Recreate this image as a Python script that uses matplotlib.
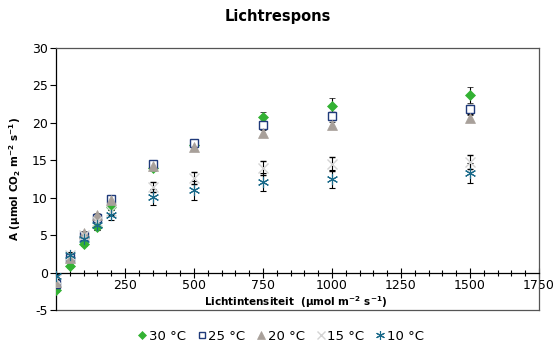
import matplotlib
matplotlib.use("Agg")
import matplotlib.pyplot as plt
from matplotlib.ticker import MultipleLocator

plt.rcParams['font.family'] = ['DejaVu Sans']
plt.rcParams['mathtext.fontset'] = 'dejavusans'
plt.rcParams['axes.unicode_minus'] = False

light = [0, 50, 100, 150, 200, 350, 500, 750, 1000, 1500]

a30 = [-2.3, 0.9, 3.8, 6.1, 8.8, 14.0, 17.1, 20.8, 22.2, 23.7]
a25 = [-1.5, 1.9, 4.9, 7.3, 9.8, 14.5, 17.3, 19.7, 20.9, 21.8]
a20 = [-1.2, 2.0, 5.3, 7.7, 9.7, 14.2, 16.8, 18.7, 19.7, 20.6]
a15 = [-0.8, 2.3, 5.0, 6.9, 8.2, 11.4, 12.6, 14.0, 14.5, 14.8]
a10 = [-0.5, 2.3, 4.5, 6.3, 7.7, 10.1, 11.0, 12.1, 12.5, 13.3]

e30 = [0.3, 0.3, 0.3, 0.4, 0.4, 0.4, 0.4, 0.6, 1.1, 1.1]
e25 = [0.3, 0.3, 0.3, 0.3, 0.4, 0.4, 0.4, 0.5, 0.5, 0.6]
e20 = [0.3, 0.3, 0.3, 0.3, 0.3, 0.3, 0.3, 0.4, 0.4, 0.4]
e15 = [0.3, 0.3, 0.4, 0.4, 0.5, 0.7, 0.8, 0.9, 0.9, 0.9]
e10 = [0.3, 0.4, 0.5, 0.6, 0.7, 1.1, 1.3, 1.2, 1.2, 1.3]

labels = ["30 °C", "25 °C", "20 °C", "15 °C", "10 °C"]

fig = plt.figure(figsize=(5.56, 3.51), dpi=100)
ax = fig.add_axes([0.1007, 0.1168, 0.8687, 0.7464])

styles = [
    dict(marker="D", ms=5, mfc="#33B233", mec="#33B233", mew=0.5),
    dict(marker="s", ms=6, mfc="white", mec="#1F3A7A", mew=1.0),
    dict(marker="^", ms=7, mfc="#A8A09A", mec="#A8A09A", mew=0.5),
    dict(marker="x", ms=7, mfc="none", mec="#D4D4D4", mew=1.0),
    dict(marker=(6, 2, 0), ms=8, mfc="none", mec="#1A6A8A", mew=0.8),
]
series = [(a30, e30), (a25, e25), (a20, e20), (a15, e15), (a10, e10)]

handles = []
for (vals, errs), st, lab in zip(series, styles, labels):
    h = ax.errorbar(light, vals, yerr=errs, ls="none", ecolor="black",
                    elinewidth=0.8, capsize=2.5, capthick=0.8,
                    label=lab, zorder=3, **st)
    handles.append(h[0])

ax.set_xlim(0, 1750)
ax.set_ylim(-5, 30)
ax.xaxis.set_minor_locator(MultipleLocator(50))
ax.yaxis.set_major_locator(MultipleLocator(5))
ax.set_xticks([250, 500, 750, 1000, 1250, 1500, 1750])

ax.spines['bottom'].set_position(('data', 0))
ax.spines['bottom'].set_color("black")
ax.spines['left'].set_color("black")
ax.spines['top'].set_color("#555555")
ax.spines['right'].set_color("#555555")
for s in ax.spines.values():
    s.set_linewidth(0.9)

# frame line along the bottom at -5
ax.axhline(-5, color="#555555", lw=0.9, clip_on=False)

ax.tick_params(axis='x', which='major', direction='inout', length=7, width=0.8,
               labelsize=9, pad=1)
ax.tick_params(axis='x', which='minor', direction='inout', length=4, width=0.8)
ax.tick_params(axis='y', which='major', direction='out', length=4, width=0.8,
               labelsize=9, pad=2)

ax.text(0.497, 0.031, "Lichtintensiteit  (µmol m$^\\mathbf{-2}$ s$^\\mathbf{-1}$)",
        transform=ax.transAxes, ha="center", va="center", fontsize=7.5,
        fontweight="bold")
ax.set_ylabel("A (µmol CO$_\\mathbf{2}$ m$^\\mathbf{-2}$ s$^\\mathbf{-1}$)",
              fontsize=7.5, fontweight="bold", labelpad=6)

fig.suptitle("Lichtrespons", x=0.5, y=0.975, fontsize=10.5, fontweight="bold")

fig.legend(handles, labels, loc="center", bbox_to_anchor=(281 / 556, 1 - 336 / 351),
           ncol=5, frameon=False, fontsize=9.5, handlelength=0.6,
           handletextpad=0.2, columnspacing=0.9, markerscale=0.8)

fig.savefig("out.png", dpi=100)
